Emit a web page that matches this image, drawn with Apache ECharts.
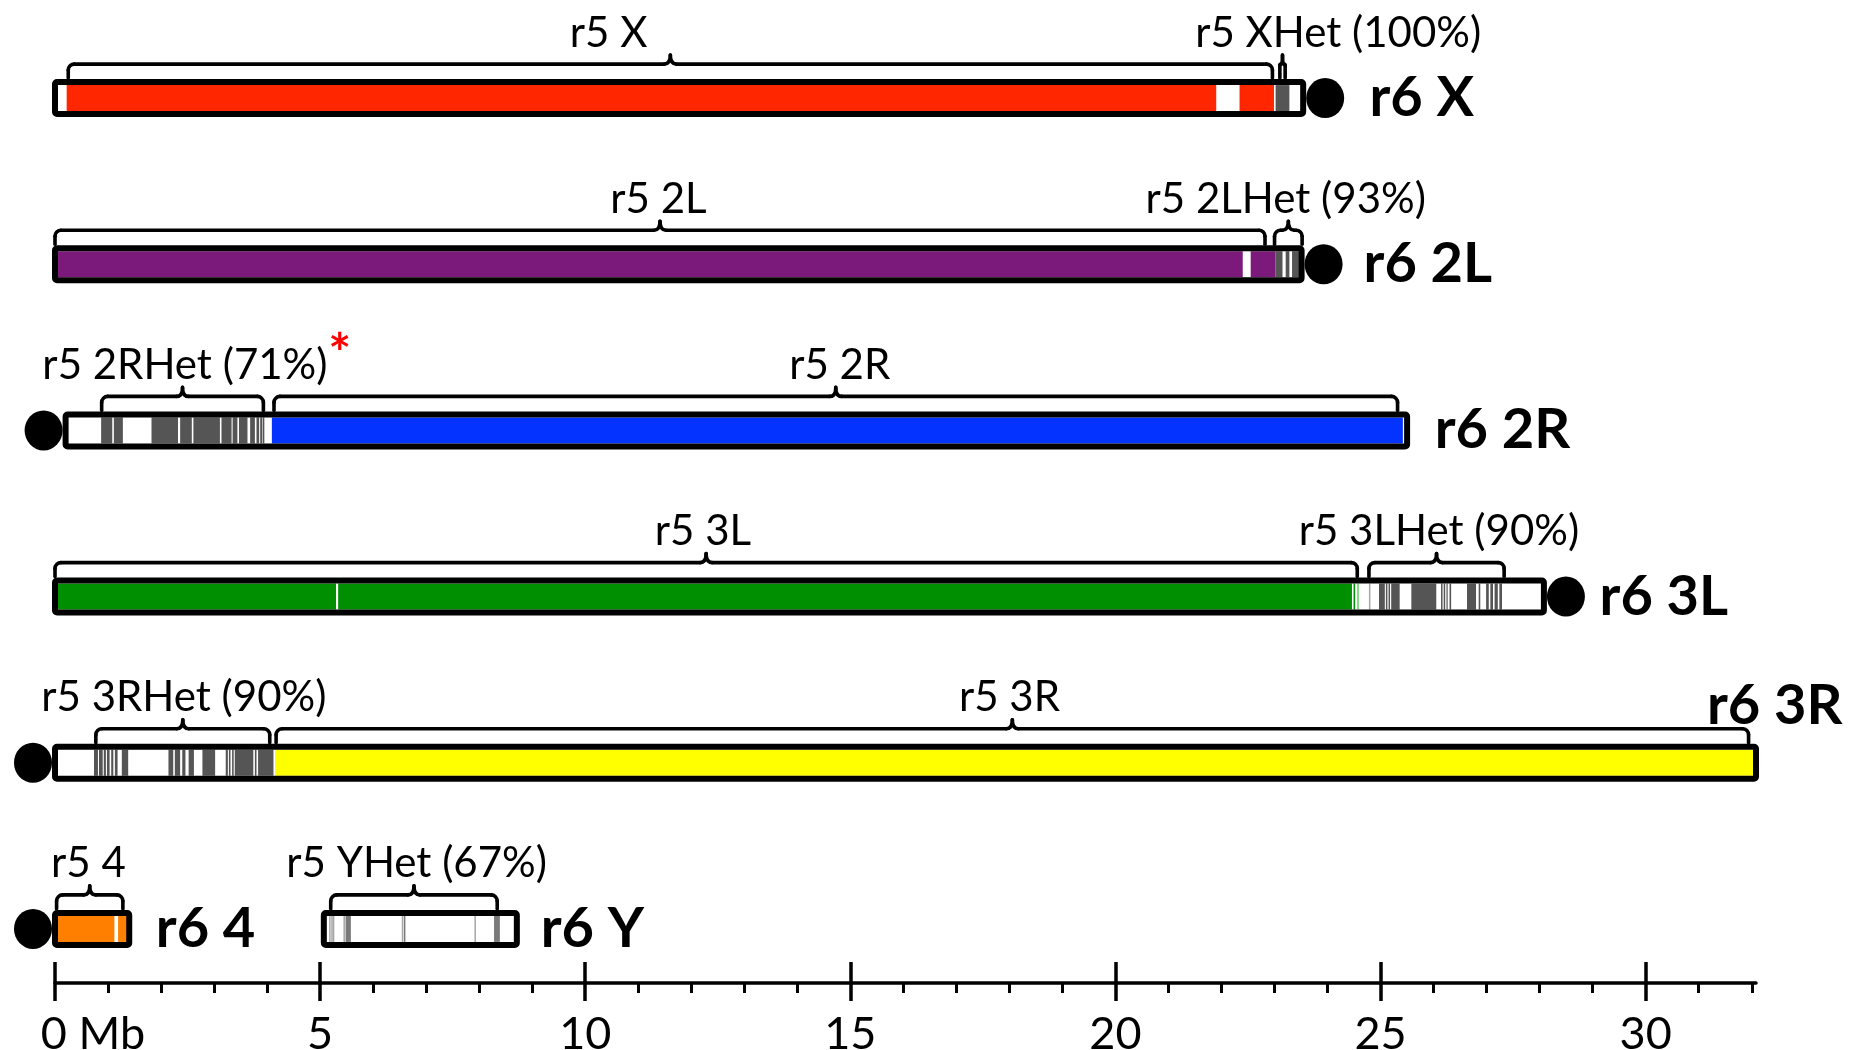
<!DOCTYPE html>
<html><head><meta charset="utf-8">
<script src="https://cdn.jsdelivr.net/npm/echarts@6/dist/echarts.min.js"></script>
<style>html,body{margin:0;padding:0;background:#fff}#c{width:1852px;height:1050px}</style>
</head><body><div id="c"></div>
<script>
// ================= DATA (Mb) =================
const rowNames = ['X', '2L', '2R', '3L', '3R', '4 / Y'];
const chromNames = ['X', '2L', '2R', '3L', '3R', '4', 'Y'];
const chromRow = [0, 1, 2, 3, 4, 5, 5];
const chromStart = [0, 0, 0.2, 0, 0, 0, 5.07];
const chromEnd = [23.54, 23.51, 25.5, 28.08, 32.08, 1.40, 8.71];
// centromere side: 1 = right end, -1 = left end, 0 = none
const centromereSide = [1, 1, -1, 1, -1, -1, 0];
const r6Labels = ['r6 X', 'r6 2L', 'r6 2R', 'r6 3L', 'r6 3R', 'r6 4', 'r6 Y'];
const r6LabelAt = [24.79, 24.68, 26.02, 29.13, 33.71, 1.90, 9.16];

// r5 euchromatin mapped segments: [chromIdx, start, end]
const euSegments = [
  [0, 0.22, 21.90], [0, 22.34, 22.99],
  [1, 0.0, 22.40], [1, 22.55, 23.02],
  [2, 4.09, 25.42],
  [3, 0.0, 5.30], [3, 5.34, 24.46], [3, 24.49, 24.52],
  [4, 4.15, 32.08],
  [5, 0.0, 1.12], [5, 1.19, 1.40]
];
const euFaint = [[3, 24.56, 24.58]];
// r5 heterochromatin mapped stripes
const hetDark = [
  [0, 23.02, 23.28],
  [1, 23.02, 23.15], [1, 23.21, 23.28], [1, 23.33, 23.46],
  [2, 0.87, 1.08], [2, 1.11, 1.28], [2, 1.82, 2.32], [2, 2.36, 2.58], [2, 2.61, 3.11], [2, 3.14, 3.33],
  [2, 3.35, 3.44], [2, 3.47, 3.63], [2, 3.68, 3.77], [2, 3.80, 3.85], [2, 3.87, 3.91], [2, 3.92, 3.94],
  [3, 24.97, 25.08], [3, 25.10, 25.12], [3, 25.15, 25.17], [3, 25.20, 25.36], [3, 25.58, 26.05],
  [3, 26.14, 26.16], [3, 26.19, 26.21], [3, 26.30, 26.33], [3, 26.63, 26.80], [3, 26.85, 26.88],
  [3, 26.99, 27.04], [3, 27.07, 27.12], [3, 27.15, 27.21], [3, 27.24, 27.29],
  [4, 0.735, 0.81], [4, 0.83, 0.90], [4, 0.92, 0.96], [4, 0.98, 1.03], [4, 1.06, 1.10], [4, 1.13, 1.18],
  [4, 1.26, 1.38], [4, 2.14, 2.23], [4, 2.26, 2.36], [4, 2.40, 2.46], [4, 2.52, 2.62], [4, 2.78, 3.02],
  [4, 3.22, 3.26], [4, 3.28, 3.31], [4, 3.34, 3.37], [4, 3.39, 3.74], [4, 3.77, 3.80], [4, 3.83, 4.12]
];
const hetMid = [[6, 5.48, 5.58], [6, 6.58, 6.60], [6, 8.28, 8.39], [3, 26.24, 26.25]];
const hetLight = [[3, 24.78, 24.80], [6, 5.17, 5.19], [6, 5.21, 5.22], [6, 5.24, 5.25], [6, 5.44, 5.46],
  [6, 6.54, 6.56], [6, 7.91, 7.93]];

// r5 brackets: [chromIdx, start, end], their labels and label anchor (Mb)
const brackets = [
  [0, 0.25, 22.96], [0, 23.10, 23.20],
  [1, 0.0, 22.82], [1, 23.0, 23.52],
  [2, 0.88, 3.93], [2, 4.13, 25.32],
  [3, 0.0, 24.56], [3, 24.78, 27.33],
  [4, 0.77, 4.05], [4, 4.17, 31.94],
  [5, 0.03, 1.28], [6, 5.2, 8.34]
];
const r5Labels = ['r5 X', 'r5 XHet (100%)', 'r5 2L', 'r5 2LHet (93%)', 'r5 2RHet (71%)', 'r5 2R',
  'r5 3L', 'r5 3LHet (90%)', 'r5 3RHet (90%)', 'r5 3R', 'r5 4', 'r5 YHet (67%)'];
const r5LabelAt = [10.44, 24.2, 11.38, 23.21, 2.45, 14.8, 12.22, 26.1, 2.43, 18.0, 0.63, 6.82];
const asterisk = [2, 5.37];

const axisMax = 32.08;
const majorTicks = [0, 5, 10, 15, 20, 25, 30];
const minorTicks = [1, 2, 3, 4, 6, 7, 8, 9, 11, 12, 13, 14, 16, 17, 18, 19, 21, 22, 23, 24, 26, 27, 28, 29, 31, 32];

// ================= STYLE =================
const chromColor = ['#ff2600', '#7b1a7b', '#0433ff', '#008f00', '#ffff00', '#ff8000', '#ffffff'];
const faintColor = ['#ff9980', '#c080c0', '#8099ff', '#66cc66', '#ffff99', '#ffc080', '#ffffff'];
const FONT = 'Lato';

function segSeries(list, colorFn) {
  return {
    type: 'custom', coordinateSystem: 'cartesian2d', xAxisIndex: 0, yAxisIndex: 0,
    silent: true, animation: false,
    data: list.map(d => [d[1], d[2], chromRow[d[0]], d[0]]),
    encode: { x: [0, 1], y: 2 },
    renderItem(params, api) {
      const s = api.value(0), e = api.value(1), row = api.value(2), ci = api.value(3);
      const a = api.coord([s, row]), b = api.coord([e, row]);
      const w = Math.max(1.5, b[0] - a[0]);
      return { type: 'rect', shape: { x: a[0], y: a[1] - 13, width: w, height: 26 },
        style: { fill: colorFn(ci), stroke: null } };
    }
  };
}

const series = [
  segSeries(euSegments, ci => chromColor[ci]),
  segSeries(euFaint, ci => faintColor[ci]),
  segSeries(hetLight, () => '#a6a6a6'),
  segSeries(hetMid, () => '#7a7a7a'),
  segSeries(hetDark, () => '#555555'),
  { // chromosome outlines
    type: 'custom', coordinateSystem: 'cartesian2d', xAxisIndex: 0, yAxisIndex: 0,
    silent: true, animation: false,
    data: chromNames.map((n, i) => [chromStart[i], chromEnd[i], chromRow[i], i]),
    encode: { x: [0, 1], y: 2 },
    renderItem(params, api) {
      const row = api.value(2);
      const a = api.coord([api.value(0), row]), b = api.coord([api.value(1), row]);
      return { type: 'rect', shape: { x: a[0], y: a[1] - 16, width: b[0] - a[0], height: 32, r: 2 },
        style: { fill: 'none', stroke: '#000', lineWidth: 6, lineJoin: 'round' } };
    }
  },
  { // r5 brackets
    type: 'custom', coordinateSystem: 'cartesian2d', xAxisIndex: 0, yAxisIndex: 0,
    silent: true, animation: false,
    data: brackets.map(b => [b[1], b[2], chromRow[b[0]]]),
    encode: { x: [0, 1], y: 2 },
    renderItem(params, api) {
      const row = api.value(2);
      const p0 = api.coord([api.value(0), row]), p1 = api.coord([api.value(1), row]);
      const x0 = p0[0], x1 = p1[0], yc = p0[1];
      const xm = (x0 + x1) / 2;
      const yLine = yc - 34, yTip = yc - 20, yPeak = yc - 43;
      const w = x1 - x0;
      const r = Math.min(6, w / 4), s = Math.min(6, w / 4);
      const st = { stroke: '#000', lineWidth: 3.6, fill: 'none', lineCap: 'round' };
      return { type: 'group', children: [
        { type: 'line', shape: { x1: x0, y1: yTip, x2: x0, y2: yLine + r }, style: st },
        { type: 'arc', shape: { cx: x0 + r, cy: yLine + r, r: r, startAngle: Math.PI, endAngle: 1.5 * Math.PI, clockwise: true }, style: st },
        { type: 'line', shape: { x1: x0 + r, y1: yLine, x2: xm - s, y2: yLine }, style: st },
        { type: 'bezierCurve', shape: { x1: xm - s, y1: yLine, cpx1: xm, cpy1: yLine, x2: xm, y2: yPeak }, style: st },
        { type: 'bezierCurve', shape: { x1: xm, y1: yPeak, cpx1: xm, cpy1: yLine, x2: xm + s, y2: yLine }, style: st },
        { type: 'line', shape: { x1: xm + s, y1: yLine, x2: x1 - r, y2: yLine }, style: st },
        { type: 'arc', shape: { cx: x1 - r, cy: yLine + r, r: r, startAngle: 1.5 * Math.PI, endAngle: 2 * Math.PI, clockwise: true }, style: st },
        { type: 'line', shape: { x1: x1, y1: yLine + r, x2: x1, y2: yTip }, style: st }
      ] };
    }
  },
  { // centromeres
    type: 'scatter', xAxisIndex: 0, yAxisIndex: 0, silent: true, animation: false,
    symbol: 'circle', symbolSize: [38, 40], itemStyle: { color: '#000', opacity: 1 },
    data: chromNames.map((n, i) => i).filter(i => centromereSide[i] !== 0).map(i => ({
      value: [centromereSide[i] > 0 ? chromEnd[i] : chromStart[i], chromRow[i]],
      symbolOffset: [22 * centromereSide[i], 0]
    }))
  },
  { // r5 labels
    type: 'custom', coordinateSystem: 'cartesian2d', xAxisIndex: 0, yAxisIndex: 0,
    silent: true, animation: false,
    data: brackets.map((b, i) => [r5LabelAt[i], chromRow[b[0]]]),
    encode: { x: 0, y: 1 },
    renderItem(params, api) {
      const p = api.coord([api.value(0), api.value(1)]);
      return { type: 'text', x: p[0], y: p[1] - 65,
        style: { text: r5Labels[params.dataIndex], fill: '#000', font: '42px ' + FONT,
          align: 'center', verticalAlign: 'middle' } };
    }
  },
  { // r6 labels
    type: 'custom', coordinateSystem: 'cartesian2d', xAxisIndex: 0, yAxisIndex: 0,
    silent: true, animation: false,
    data: chromNames.map((n, i) => [r6LabelAt[i], chromRow[i]]),
    encode: { x: 0, y: 1 },
    renderItem(params, api) {
      const i = params.dataIndex;
      const p = api.coord([api.value(0), api.value(1)]);
      const above = chromNames[i] === '3R';
      return { type: 'text', x: p[0], y: above ? p[1] - 57 : p[1],
        style: { text: r6Labels[i], fill: '#000', font: 'bold 56px ' + FONT,
          align: above ? 'right' : 'left', verticalAlign: 'middle' } };
    }
  },
  { // asterisk
    type: 'custom', coordinateSystem: 'cartesian2d', xAxisIndex: 0, yAxisIndex: 0,
    silent: true, animation: false,
    data: [[asterisk[1], chromRow[asterisk[0]]]],
    encode: { x: 0, y: 1 },
    renderItem(params, api) {
      const p = api.coord([api.value(0), api.value(1)]);
      return { type: 'text', x: p[0], y: p[1] - 76,
        style: { text: '*', fill: '#ff0000', font: 'bold 54px ' + FONT, align: 'center', verticalAlign: 'middle' } };
    }
  }
];

const tickLine = { color: '#000', width: 3.5 };
const baseX = { type: 'value', gridIndex: 1, min: 0, max: axisMax, position: 'bottom', splitLine: { show: false } };

const option = {
  animation: false,
  backgroundColor: '#ffffff',
  grid: [
    { left: 55, right: 96, top: 15, height: 997, outerBoundsMode: 'none', containLabel: false },
    { left: 55, right: 96, top: 900, bottom: 67, outerBoundsMode: 'none', containLabel: false }
  ],
  xAxis: [
    { type: 'value', gridIndex: 0, min: 0, max: axisMax, show: false },
    Object.assign({}, baseX, {
      axisLine: { show: true, lineStyle: { color: '#000', width: 3.5 } },
      axisTick: { show: true, customValues: majorTicks, length: 18, lineStyle: tickLine },
      axisLabel: {
        show: true, customValues: majorTicks, margin: 29, color: '#000', fontFamily: FONT, fontSize: 45,
        formatter: v => v === 0 ? '{z|0 Mb}' : '{n|' + v + '}',
        rich: {
          z: { fontFamily: FONT, fontSize: 45, color: '#000', padding: [0, 0, 0, 76] },
          n: { fontFamily: FONT, fontSize: 45, color: '#000' }
        }
      }
    }),
    Object.assign({}, baseX, {
      axisLine: { show: false },
      axisTick: { show: true, inside: true, customValues: majorTicks, length: 21, lineStyle: tickLine },
      axisLabel: { show: false }
    }),
    Object.assign({}, baseX, {
      axisLine: { show: false },
      axisTick: { show: true, customValues: minorTicks, length: 10, lineStyle: { color: '#000', width: 3 } },
      axisLabel: { show: false }
    })
  ],
  yAxis: [
    { type: 'category', gridIndex: 0, data: rowNames, inverse: true, show: false },
    { type: 'value', gridIndex: 1, show: false }
  ],
  series: series
};

const chart = echarts.init(document.getElementById('c'));
chart.setOption(option);
</script>
</body></html>
